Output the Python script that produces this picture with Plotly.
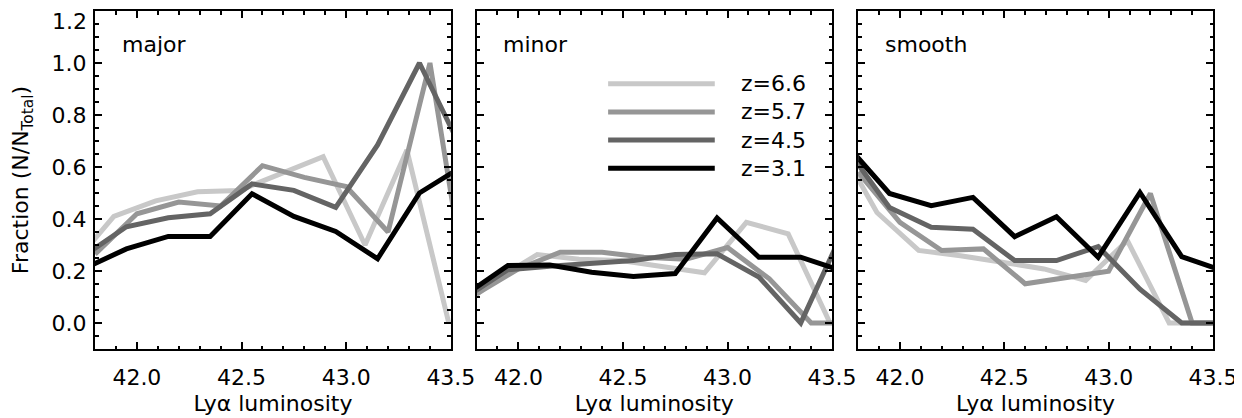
import plotly.graph_objects as go

# ---- data -------------------------------------------------------------
redshifts = ["z=6.6", "z=5.7", "z=4.5", "z=3.1"]
line_colors = ["#c8c8c8", "#969696", "#646464", "#000000"]
panels = ["major", "minor", "smooth"]

# luminosity bin centres (log L_Lya) for each redshift sample
lum_z66 = [41.69, 41.89, 42.09, 42.29, 42.49, 42.69, 42.89, 43.09, 43.29, 43.49]
lum_z57 = [41.80, 42.00, 42.20, 42.40, 42.60, 42.80, 43.00, 43.20, 43.40, 43.60]
lum_z45 = [41.75, 41.95, 42.15, 42.35, 42.55, 42.75, 42.95, 43.15, 43.35, 43.55]
lum_z31 = [41.75, 41.95, 42.15, 42.35, 42.55, 42.75, 42.95, 43.15, 43.35, 43.55]

# fraction N/N_total, panel "major"
major_z66 = [0.22, 0.41, 0.47, 0.505, 0.51, 0.575, 0.64, 0.30, 0.665, 0.0]
major_z57 = [0.265, 0.42, 0.465, 0.45, 0.605, 0.56, 0.525, 0.35, 1.0, 0.0]
major_z45 = [0.26, 0.37, 0.405, 0.42, 0.535, 0.51, 0.445, 0.685, 1.0, 0.67]
major_z31 = [0.21, 0.285, 0.333, 0.333, 0.497, 0.41, 0.352, 0.247, 0.5, 0.6]

# panel "minor"
minor_z66 = [0.04, 0.165, 0.263, 0.245, 0.24, 0.215, 0.193, 0.387, 0.343, 0.0]
minor_z57 = [0.112, 0.208, 0.272, 0.272, 0.253, 0.245, 0.29, 0.17, 0.0, 0.0]
minor_z45 = [0.10, 0.205, 0.218, 0.227, 0.24, 0.263, 0.266, 0.177, 0.0, 0.35]
minor_z31 = [0.11, 0.221, 0.223, 0.195, 0.179, 0.19, 0.404, 0.253, 0.253, 0.20]

# panel "smooth"
smooth_z66 = [0.71, 0.425, 0.279, 0.259, 0.234, 0.208, 0.164, 0.317, 0.0, 0.0]
smooth_z57 = [0.58, 0.387, 0.279, 0.285, 0.151, 0.176, 0.199, 0.498, 0.0, 0.0]
smooth_z45 = [0.665, 0.444, 0.368, 0.361, 0.24, 0.24, 0.294, 0.13, 0.0, 0.0]
smooth_z31 = [0.68, 0.498, 0.451, 0.483, 0.332, 0.409, 0.253, 0.502, 0.255, 0.20]

x_tick_values = [42.0, 42.5, 43.0, 43.5]
y_tick_values = [0.0, 0.2, 0.4, 0.6, 0.8, 1.0, 1.2]
y_tick_text = ["0.0", "0.2", "0.4", "0.6", "0.8", "1.0", ""]
y_top_label = "1.2"

lum_bins = [lum_z66, lum_z57, lum_z45, lum_z31]
panel_data = {
    "major": [major_z66, major_z57, major_z45, major_z31],
    "minor": [minor_z66, minor_z57, minor_z45, minor_z31],
    "smooth": [smooth_z66, smooth_z57, smooth_z45, smooth_z31],
}

# ---- figure -----------------------------------------------------------
FONT = "DejaVu Sans"
FS = 22
fig = go.Figure()

for p, name in enumerate(panels):
    sfx = "" if p == 0 else str(p + 1)
    for k in range(4):
        fig.add_trace(go.Scatter(
            x=lum_bins[k], y=panel_data[name][k], mode="lines",
            line=dict(color=line_colors[k], width=5),
            xaxis="x" + sfx, yaxis="y" + sfx,
            showlegend=False, hoverinfo="skip"))

domains = [[0.0, 0.3183], [0.3413, 0.6593], [0.6826, 1.0]]

def xaxis_def(p):
    return dict(
        domain=domains[p], anchor="y" if p == 0 else "y" + str(p + 1),
        range=[41.8, 43.5], tickvals=x_tick_values, tickformat=".1f",
        ticks="inside", ticklen=7, tickwidth=2, tickcolor="black",
        showline=True, linewidth=2, linecolor="black", mirror="allticks",
        showgrid=False, zeroline=False,
        minor=dict(dtick=0.1, tick0=42.0, ticks="inside", ticklen=3.5,
                   tickwidth=2, tickcolor="black", showgrid=False),
        tickfont=dict(family=FONT, size=FS, color="black"),
        ticklabelstandoff=8,
        title=dict(text="Lyα luminosity", standoff=6,
                   font=dict(family=FONT, size=FS, color="black")),
    )

def yaxis_def(p):
    d = dict(
        domain=[0, 1], anchor="x" if p == 0 else "x" + str(p + 1),
        range=[-0.1, 1.2], tickvals=y_tick_values, ticktext=y_tick_text,
        ticks="inside", ticklen=7, tickwidth=2, tickcolor="black",
        showline=True, linewidth=2, linecolor="black", mirror="allticks",
        showgrid=False, zeroline=False,
        minor=dict(dtick=0.05, tick0=0.0, ticks="inside", ticklen=3.5,
                   tickwidth=2, tickcolor="black", showgrid=False),
        tickfont=dict(family=FONT, size=FS, color="black"),
        showticklabels=(p == 0), ticklabelstandoff=2,
    )
    if p == 0:
        d["title"] = dict(text="Fraction (N/N<sub>Total</sub>)", standoff=25,
                          font=dict(family=FONT, size=FS, color="black"))
    return d

# page body has an 8px margin, so the figure is sized to fit the window
layout = dict(
    width=1234, height=410,
    margin=dict(l=87, r=29, t=1, b=69),
    paper_bgcolor="white", plot_bgcolor="white",
    font=dict(family=FONT, size=FS, color="black"),
    showlegend=False,
)
for p in range(3):
    sfx = "" if p == 0 else str(p + 1)
    layout["xaxis" + sfx] = xaxis_def(p)
    layout["yaxis" + sfx] = yaxis_def(p)

annotations = []
shapes = []
for p, name in enumerate(panels):
    sfx = "" if p == 0 else str(p + 1)
    annotations.append(dict(
        text=name, xref="x" + sfx + " domain", yref="y" + sfx + " domain",
        x=0.07, y=0.902, xanchor="left", yanchor="middle", showarrow=False,
        font=dict(family=FONT, size=FS, color="black")))

# top y tick label sits just inside the frame (as in the original)
annotations.append(dict(
    text=y_top_label, xref="x domain", yref="y", x=0, y=1.2,
    xanchor="right", yanchor="middle", xshift=-6, yshift=-10, showarrow=False,
    font=dict(family=FONT, size=FS, color="black")))

# legend drawn in the "minor" panel
legend_rows = [0.785, 0.7015, 0.618, 0.535]
for k in range(4):
    shapes.append(dict(
        type="line", xref="x2 domain", yref="y2 domain",
        x0=0.370, x1=0.670, y0=legend_rows[k], y1=legend_rows[k],
        line=dict(color=line_colors[k], width=5)))
    annotations.append(dict(
        text=redshifts[k], xref="x2 domain", yref="y2 domain",
        x=0.738, y=legend_rows[k], xanchor="left", yanchor="middle",
        showarrow=False, font=dict(family=FONT, size=FS, color="black")))

layout["annotations"] = annotations
layout["shapes"] = shapes
fig.update_layout(**layout)
fig.write_html("out.html")
